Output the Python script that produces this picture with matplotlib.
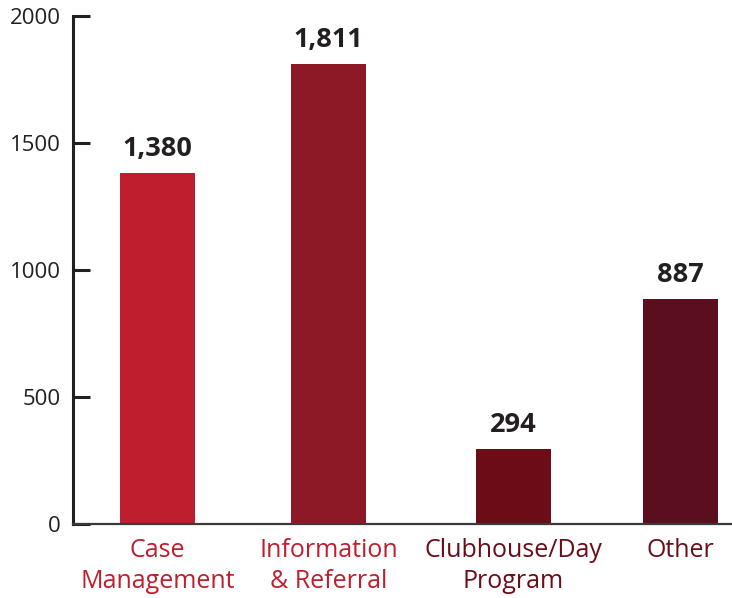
#!/usr/bin/env python3
import matplotlib
matplotlib.use("Agg")
import matplotlib.pyplot as plt

# --- Data ---
categories = ["Case\nManagement", "Information\n& Referral", "Clubhouse/Day\nProgram", "Other"]
values = [1380, 1811, 294, 887]
value_labels = ["1,380", "1,811", "294", "887"]

# --- Style ---
bar_colors = ["#BE1E2D", "#8E1926", "#6B0C17", "#5A0E1E"]
label_colors = ["#BE1E2D", "#BE1E2D", "#6B0C17", "#6B0C17"]
x_pos = [157.5, 328.5, 513.5, 680.5]  # bar centres, pixel-like units
axis_color = "#231F20"

plt.rcParams["font.family"] = ["Open Sans", "DejaVu Sans"]

fig = plt.figure(figsize=(7.32, 5.98), dpi=100)
ax = fig.add_axes([73 / 732, 74 / 598, 659 / 732, 508 / 598])

ax.bar(x_pos, values, width=75, color=bar_colors, zorder=2)

for x, v, lab in zip(x_pos, values, value_labels):
    ax.annotate(lab, (x, v), textcoords="offset points", xytext=(0, 8),
                ha="center", va="bottom", fontsize=19.5, fontweight="bold",
                color="#231F20")

ax.set_xlim(73, 732)
ax.set_ylim(0, 2000)
ax.set_yticks([0, 500, 1000, 1500, 2000])
ax.set_yticklabels(["0", "500", "1000", "1500", "2000"], fontsize=16, color="#231F20")
ax.tick_params(axis="y", direction="in", length=12, width=2.2, color=axis_color, pad=9)

ax.set_xticks(x_pos)
ax.set_xticklabels(categories, fontsize=18, linespacing=1.32)
for t, c in zip(ax.get_xticklabels(), label_colors):
    t.set_color(c)
ax.tick_params(axis="x", length=0, pad=10)

for side in ["top", "right"]:
    ax.spines[side].set_visible(False)
ax.spines["left"].set_color(axis_color)
ax.spines["left"].set_linewidth(2.2)
ax.spines["bottom"].set_color("#3a3a3a")
ax.spines["bottom"].set_linewidth(1.6)

fig.savefig("out.png", dpi=100)
plt.close()
